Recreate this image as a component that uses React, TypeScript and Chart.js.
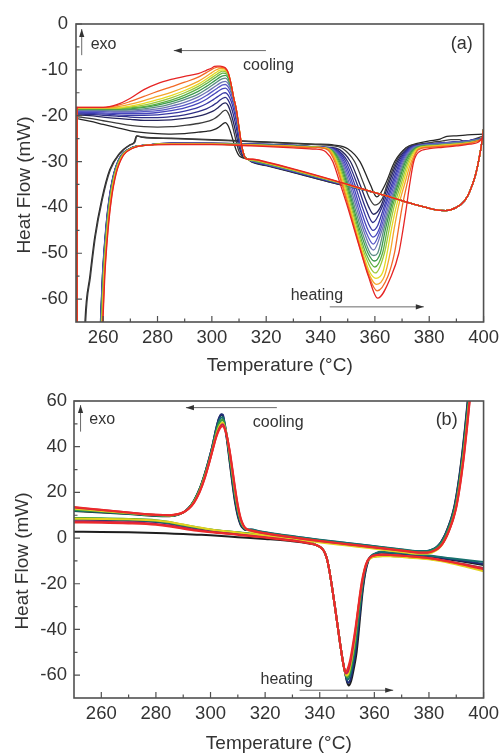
import React, { useEffect, useRef } from 'react';
import { Chart, registerables } from 'chart.js';

Chart.register(...registerables);

const FONT = '"Liberation Sans", Arial, Helvetica, sans-serif';
const TEXT_COLOR = '#333333';
const FRAME_COLOR = '#505050';

// ---------- shared x axis ----------
const xTicks = [260, 280, 300, 320, 340, 360, 380, 400];
const xMinorTicks = [270, 290, 310, 330, 350, 370, 390];

// ================= PANEL (a) =================
const aYTicks = [-60, -50, -40, -30, -20, -10, 0];
const aYMinorTicks = [-55, -45, -35, -25, -15, -5];
const aColors = ['#262626', '#3d3d3d', '#26265e', '#2e2e86', '#3838a6', '#4646bc', '#5858c6', '#6c74b4',
  '#5c8c84', '#3c9a4c', '#5cb043', '#9cc83a', '#e4da22', '#f4a62a', '#f26a26', '#e62424'];

// cooling: shared start transient + baseline (400 -> 360)
const aCoolBaseT = [400, 399, 398, 397, 395, 393, 390, 386, 382, 378, 372, 366, 360];
const aCoolBaseY = [-23, -27.2, -30.4, -33, -36.4, -38.6, -40, -40.7, -40.5, -39.9, -38.9, -37.8, -36.8];
// cooling baseline per curve (350 -> 315)
const aCoolMidT = [350, 345, 330, 320, 315];
const aCoolMid = [
  [-35.4, -34.7, -32.4, -30.9, -30.2],
  [-35.4, -34.7, -32.3, -30.8, -30.1],
  [-35.35, -34.6, -32.3, -30.8, -30.1],
  [-35.3, -34.6, -32.2, -30.7, -30.0],
  [-35.3, -34.5, -32.2, -30.7, -30.0],
  [-35.25, -34.5, -32.1, -30.6, -29.9],
  [-35.2, -34.4, -32.1, -30.6, -29.9],
  [-35.2, -34.4, -32.0, -30.5, -29.8],
  [-35.15, -34.35, -32.0, -30.5, -29.8],
  [-35.1, -34.3, -31.9, -30.4, -29.8],
  [-35.1, -34.3, -31.9, -30.4, -29.7],
  [-35.1, -34.25, -31.8, -30.3, -29.7],
  [-35.05, -34.2, -31.8, -30.3, -29.6],
  [-35.05, -34.2, -31.7, -30.2, -29.6],
  [-35.0, -34.15, -31.7, -30.2, -29.5],
  [-35.0, -34.1, -31.6, -30.1, -29.5],
];
// cooling exotherm (313 -> 250)
const aCoolPeakT = [313, 312, 311, 310, 309, 308, 307, 306, 305, 304, 303, 302, 301, 300, 298, 295, 290, 285, 280, 275, 270, 265, 260, 255, 250];
const aCoolPeak = [
  [-29.4, -29.3, -29.1, -28.7, -27.6, -25.8, -23.8, -22.2, -21.5, -21.8, -22.3, -22.7, -23, -23.2, -23.4, -23.6, -23.9, -24, -23.9, -23.7, -23.3, -22.6, -21.9, -21.2, -20.6],
  [-29.4, -29.2, -28.8, -27.8, -25.8, -23.2, -20.9, -19.4, -18.8, -19.1, -19.7, -20.2, -20.6, -20.9, -21.3, -21.7, -22.1, -22.4, -22.5, -22.4, -22.1, -21.6, -21.1, -20.6, -20.2],
  [-29.4, -29.1, -28.4, -26.8, -24.2, -21.6, -19.4, -17.8, -17.2, -17.4, -17.9, -18.4, -18.8, -19.1, -19.6, -20.1, -20.6, -20.9, -21, -21, -20.8, -20.6, -20.3, -20, -19.8],
  [-29.4, -29, -28, -25.8, -22.6, -20, -17.9, -16.6, -16, -16.2, -16.6, -17.1, -17.5, -17.9, -18.5, -19.1, -19.8, -20.2, -20.4, -20.4, -20.3, -20.1, -19.9, -19.7, -19.6],
  [-29.4, -28.9, -27.6, -24.8, -21.2, -18.6, -16.7, -15.5, -15, -15.1, -15.5, -15.9, -16.3, -16.7, -17.4, -18.2, -19, -19.5, -19.8, -19.9, -19.9, -19.8, -19.6, -19.5, -19.4],
  [-29.4, -28.8, -27.3, -24, -20.2, -17.6, -15.7, -14.5, -14, -14.1, -14.4, -14.8, -15.2, -15.6, -16.4, -17.3, -18.3, -18.9, -19.3, -19.5, -19.5, -19.5, -19.4, -19.3, -19.2],
  [-29.4, -28.8, -27.1, -23.5, -19.6, -16.9, -14.9, -13.7, -13.2, -13.3, -13.6, -14, -14.4, -14.8, -15.6, -16.6, -17.7, -18.4, -18.9, -19.1, -19.2, -19.2, -19.1, -19.1, -19],
  [-29.4, -28.8, -26.9, -23.2, -19.2, -16.4, -14.3, -13, -12.5, -12.6, -12.9, -13.3, -13.7, -14.1, -14.9, -15.9, -17.1, -17.9, -18.5, -18.8, -19, -19, -18.9, -18.9, -18.8],
  [-29.4, -28.8, -26.8, -23, -19, -16.2, -13.9, -12.4, -11.8, -11.9, -12.2, -12.6, -13, -13.4, -14.2, -15.3, -16.5, -17.4, -18.1, -18.5, -18.7, -18.8, -18.8, -18.7, -18.7],
  [-29.4, -28.8, -26.7, -22.9, -18.9, -16.1, -13.5, -11.8, -11.2, -11.3, -11.6, -12, -12.4, -12.8, -13.6, -14.7, -16, -17, -17.7, -18.2, -18.5, -18.6, -18.6, -18.6, -18.6],
  [-29.4, -28.8, -26.7, -22.8, -18.8, -16, -13.2, -11.3, -10.75, -10.7, -11, -11.4, -11.8, -12.2, -13, -14.1, -15.5, -16.6, -17.4, -18, -18.3, -18.5, -18.5, -18.5, -18.5],
  [-29.5, -28.9, -26.6, -22.7, -18.7, -16, -13, -11, -10.4, -10.3, -10.5, -10.9, -11.3, -11.7, -12.5, -13.6, -15, -16.1, -17, -17.7, -18.1, -18.4, -18.4, -18.4, -18.4],
  [-29.5, -28.9, -26.6, -22.7, -18.7, -16, -12.9, -10.8, -10.1, -10, -10.05, -10.4, -10.8, -11.2, -12, -13.1, -14.5, -15.6, -16.5, -17.3, -17.9, -18.3, -18.3, -18.3, -18.3],
  [-29.5, -28.9, -26.6, -22.6, -18.6, -16, -12.9, -10.7, -9.9, -9.7, -9.7, -9.9, -10.2, -10.6, -11.4, -12.5, -13.8, -14.9, -15.8, -16.7, -17.5, -18.1, -18.3, -18.3, -18.3],
  [-29.5, -28.9, -26.6, -22.6, -18.6, -16, -12.9, -10.6, -9.7, -9.5, -9.4, -9.4, -9.6, -9.9, -10.6, -11.6, -12.7, -13.7, -14.7, -15.8, -16.9, -17.8, -18.2, -18.2, -18.2],
  [-29.5, -28.9, -26.6, -22.6, -18.6, -16, -12.9, -10.6, -9.6, -9.3, -9.2, -9.2, -9.25, -9.6, -10.1, -10.8, -11.4, -12.1, -13, -14.3, -16.2, -17.6, -18.2, -18.2, -18.2],
];
// switch cooling -> heating at 250 (signal falls off the bottom)
const aDropT = [250.4, 250.4];
const aDropBottom = -90;
// heating: rise after the switch
const aBlackRiseT = [252.8, 253.3, 255.1, 256.9, 259.4, 262.4, 266.0, 269.7, 271.5, 272.2, 274.5];
const aBlackRiseY = [-75, -65, -55, -46.4, -38.4, -31.8, -28.2, -26.4, -25.7, -24.4, -24.7];
const aColorRiseT = [259.3, 259.9, 260.6, 261.8, 263.0, 264.8, 267.2, 270.9, 276.9];
const aColorRiseY = [-75, -65, -55, -45, -38.4, -32.6, -28.9, -27.1, -26.4];
const aRiseShift = [0, 0.25, -0.9, -0.85, -0.8, -0.75, -0.7, -0.65, -0.6, -0.55, -0.5, -0.4, -0.3, -0.2, -0.1, 0];
// heating plateau
const aPlateauT = [285, 300, 315, 330, 338];
const aPlateau = [
  [-24.9, -25.2, -25.6, -26.0, -26.2],
  [-25.0, -25.3, -25.7, -26.1, -26.3],
  [-26.0, -26.0, -26.2, -26.5, -26.8],
  [-26.0, -26.0, -26.2, -26.5, -26.8],
  [-26.0, -26.1, -26.2, -26.5, -26.8],
  [-26.1, -26.1, -26.3, -26.6, -26.8],
  [-26.1, -26.1, -26.3, -26.6, -26.8],
  [-26.1, -26.1, -26.3, -26.6, -26.8],
  [-26.1, -26.1, -26.3, -26.6, -26.8],
  [-26.1, -26.1, -26.3, -26.6, -26.8],
  [-26.1, -26.2, -26.4, -26.7, -26.9],
  [-26.1, -26.2, -26.4, -26.7, -26.9],
  [-26.2, -26.2, -26.4, -26.7, -26.9],
  [-26.2, -26.2, -26.4, -26.7, -26.9],
  [-26.2, -26.2, -26.5, -26.8, -27.0],
  [-26.3, -26.3, -26.6, -27.0, -27.3],
];
// heating endotherm + tail to 400
const aHeatPeak = [
  [[345, -26.4], [350, -27.2], [354.5, -30], [358.3, -35], [360.7, -37.7], [363.8, -35], [367.3, -30], [371.5, -27], [376, -26], [380, -25.5], [384, -25.1], [386.5, -24.5], [390, -24.4], [394, -24.2], [400, -24]],
  [[344, -26.5], [348, -27.1], [352.5, -30], [356, -35], [358, -38], [360, -39.5], [362.8, -38], [364.5, -35], [367.8, -30], [371.5, -27], [376, -26.2], [381, -25.8], [385, -25.5], [388, -25.2], [391, -25.2], [393.5, -25.8], [396, -25.2], [400, -24.4]],
  [[343, -26.9], [347, -27.4], [351, -30], [354.5, -35], [357.8, -40], [359.5, -41.5], [362, -40], [365, -35], [368.3, -30], [371.8, -27.2], [376, -26.4], [382, -26.1], [388, -25.8], [394, -25.5], [400, -24.9]],
  [[342, -26.9], [346, -27.4], [350, -30], [353.5, -35], [356.5, -40], [359.3, -43.3], [362.6, -40], [365.6, -35], [368.8, -30], [372.3, -27.2], [376.5, -26.4], [382, -26.1], [388, -25.8], [394, -25.5], [400, -24.9]],
  [[341.5, -26.9], [345.5, -27.4], [349.3, -30], [352.6, -35], [355.4, -40], [358, -44], [359.3, -45], [361, -44], [363.3, -40], [366.2, -35], [369.3, -30], [372.6, -27.2], [376.5, -26.4], [382, -26.1], [388, -25.8], [394, -25.5], [400, -24.9]],
  [[341, -26.9], [345, -27.4], [348.7, -30], [351.9, -35], [354.5, -40], [357.5, -45], [359.3, -46.5], [361.4, -45], [363.8, -40], [366.7, -35], [369.7, -30], [373, -27.2], [377, -26.4], [382, -26.1], [388, -25.8], [394, -25.5], [400, -24.9]],
  [[340.7, -26.9], [344.7, -27.4], [348.2, -30], [351.3, -35], [353.8, -40], [356.5, -45], [359.4, -48], [362, -45], [364.4, -40], [367.2, -35], [370.1, -30], [373.4, -27.2], [377, -26.4], [382, -26.2], [388, -25.9], [394, -25.6], [400, -25]],
  [[340.4, -26.9], [344.4, -27.4], [347.8, -30], [350.7, -35], [353.2, -40], [355.8, -45], [359.5, -49.3], [362.6, -45], [364.9, -40], [367.7, -35], [370.5, -30], [373.8, -27.2], [377.5, -26.4], [383, -26.2], [389, -25.9], [394, -25.6], [400, -25]],
  [[340, -26.9], [344, -27.4], [347.4, -30], [350.2, -35], [352.6, -40], [355.1, -45], [358.3, -50], [359.6, -50.5], [361, -50], [363.2, -45], [365.4, -40], [368.1, -35], [370.9, -30], [374.2, -27.2], [378, -26.5], [383, -26.3], [389, -26], [394, -25.7], [400, -25]],
  [[339.8, -26.9], [343.8, -27.4], [347, -30], [349.8, -35], [352.1, -40], [354.5, -45], [357.5, -50], [359.8, -51.7], [362, -50], [363.8, -45], [365.9, -40], [368.5, -35], [371.3, -30], [374.6, -27.2], [378, -26.6], [384, -26.5], [390, -26.2], [395, -25.9], [400, -25.2]],
  [[339.6, -26.9], [343.6, -27.4], [346.6, -30], [349.4, -35], [351.7, -40], [354, -45], [356.7, -50], [360, -53], [362.8, -50], [364.5, -45], [366.4, -40], [369, -35], [371.8, -30], [375, -27.2], [378.5, -26.6], [384, -26.5], [390, -26.2], [395, -25.9], [400, -25.2]],
  [[339.4, -26.9], [343.4, -27.4], [346.2, -30], [349, -35], [351.3, -40], [353.6, -45], [356.1, -50], [360.2, -54.3], [363.5, -50], [365.2, -45], [367, -40], [369.6, -35], [372.3, -30], [375.3, -27.2], [379, -26.7], [384, -26.5], [390, -26.2], [395, -25.9], [400, -25.2]],
  [[339.2, -26.9], [343.2, -27.4], [345.9, -30], [348.6, -35], [350.9, -40], [353.2, -45], [355.6, -50], [358, -54], [360.4, -55.5], [363, -54], [364.5, -50], [366, -45], [367.8, -40], [370.2, -35], [372.8, -30], [375.6, -27.2], [379, -26.7], [384, -26.5], [390, -26.2], [395, -25.9], [400, -25.2]],
  [[339, -26.9], [343, -27.4], [345.6, -30], [348.2, -35], [350.6, -40], [352.9, -45], [355.3, -50], [358.2, -55], [360.6, -56.8], [363.5, -55], [365.6, -50], [367, -45], [368.6, -40], [370.9, -35], [373.4, -30], [375.9, -27.3], [379.5, -26.8], [384, -26.6], [390, -26.3], [395, -26], [400, -25.2]],
  [[338.8, -26.9], [342.7, -27.5], [345.2, -30], [347.9, -35], [350.3, -40], [352.7, -45], [355.1, -50], [357.8, -55], [360.8, -58.2], [364.8, -55], [367.2, -50], [368.6, -45], [370, -40], [371.8, -35], [373.9, -30], [376, -27.4], [380, -26.9], [385, -26.7], [390, -26.4], [395, -26], [400, -25]],
  [[338.5, -27.3], [342, -27.9], [344.5, -30], [347.3, -35], [350, -40], [352.5, -45], [355, -50], [357.6, -55], [361, -59.8], [366, -55], [368.8, -50], [370.3, -45], [371.6, -40], [372.8, -35], [374.3, -30], [376, -28], [380, -27.2], [385, -26.9], [390, -26.6], [395, -26.2], [398, -25.8], [400, -24.5]],
];

// ================= PANEL (b) =================
const bYTicks = [-60, -40, -20, 0, 20, 40, 60];
const bYMinorTicks = [-50, -30, -10, 10, 30, 50];
const bColors = ['#1e1e1e', '#1f2d78', '#17706e', '#3a9e3a', '#e4d21e', '#c8204e', '#ec2a2a'];

// cooling: start transient + baseline (400 -> 315)
const bCoolBaseT = [400, 397.5, 395.5, 394.5, 393.5, 392.5, 391.5, 390.5, 389.5, 388.5, 387.5, 386.5, 385.5, 384.5, 383, 381, 379, 376, 372, 365, 358, 350, 340, 333, 325, 318, 315];
const bCoolBaseY = [140, 100, 72, 60, 48, 37, 27.5, 19.5, 13, 8.5, 5, 2, -0.5, -2.5, -4.4, -5.7, -6.3, -6.3, -5.8, -4.8, -3.8, -2.7, -1.3, -0.2, 1.1, 2.4, 3.2];
const bCoolShiftT = [-0.3, -0.2, 0, 0.1, 0.2, 0.35, 0.45];
const bCoolOffsetY = [0.3, 0.5, 0.6, 0.1, -0.6, -0.1, 0];
// cooling exotherm (313 -> 250)
const bCoolPeakT = [313, 312, 311, 310, 309, 308, 307, 306, 305, 304.5, 304, 303, 302, 301, 300, 298, 296, 294, 292, 290, 288, 285, 280, 270, 260, 250];
const bCoolPeak = [
  [3.5, 4.2, 5.8, 9.5, 15.5, 24, 33.5, 43, 50.5, 53.6, 54, 52, 47.5, 42, 37, 28.5, 21.5, 16.5, 13.2, 11.2, 10.2, 9.6, 9.7, 10.5, 11.2, 11.8],
  [3.6, 4.4, 6.2, 10.2, 16.5, 25, 34.5, 44, 51.5, 54, 54.2, 52.2, 47.6, 42, 37, 28.5, 21.5, 16.5, 13.2, 11.2, 10.2, 9.7, 9.9, 10.8, 11.6, 12.2],
  [3.8, 4.8, 7, 11.5, 18, 26.5, 35.5, 44.5, 51, 52.9, 52.8, 51, 46.8, 41.5, 36.5, 28.2, 21.3, 16.4, 13.1, 11.2, 10.2, 9.7, 9.8, 10.7, 11.4, 12],
  [4, 5, 7.6, 12.3, 19, 27.5, 36.3, 44.5, 50.2, 51.8, 51.6, 49.8, 45.8, 40.8, 36, 28, 21.2, 16.3, 13.1, 11.2, 10.3, 9.8, 10, 10.9, 11.7, 12.4],
  [4, 5.3, 8.2, 13.3, 20.5, 29, 37.5, 44.8, 49.5, 50.6, 50.3, 48.4, 44.7, 40, 35.3, 27.3, 20.6, 15.9, 12.9, 11.2, 10.4, 9.9, 10.1, 11, 11.9, 12.8],
  [4.1, 5.6, 8.6, 14, 21.3, 29.8, 38, 44.7, 48.9, 49.8, 49.5, 47.6, 44.2, 39.7, 35.1, 26.9, 20.3, 15.7, 12.8, 11.2, 10.4, 10, 10.2, 11.2, 12.3, 13.4],
  [4.2, 5.8, 9, 14.5, 22, 30.5, 38.5, 44.5, 48.2, 49, 48.8, 47, 43.8, 39.5, 35, 26.5, 20, 15.5, 12.8, 11.3, 10.5, 10, 10.2, 11.2, 12.4, 13.6],
];
// heating: 250 -> 336
const bHeatPreT = [250, 260, 270, 280, 285, 290, 295, 300, 310, 320, 330, 336];
const bHeatPre = [
  [2.8, 2.7, 2.5, 2.2, 2, 1.8, 1.5, 1.2, 0.4, -0.4, -1.4, -2.4],
  [8.0, 7.9, 7.6, 7.0, 6.3, 5.2, 4.2, 3.4, 2.2, 1.0, -0.5, -1.8],
  [8.3, 8.2, 7.9, 7.3, 6.5, 5.4, 4.4, 3.6, 2.4, 1.1, -0.4, -1.7],
  [8.8, 8.7, 8.4, 7.8, 7.0, 5.8, 4.7, 3.8, 2.5, 1.2, -0.3, -1.6],
  [8.5, 8.4, 8.2, 7.7, 7.0, 5.9, 4.8, 3.8, 2.4, 1.0, -0.6, -1.9],
  [7.3, 7.2, 6.9, 6.2, 5.5, 4.5, 3.5, 2.8, 1.6, 0.4, -1.0, -2.2],
  [6.8, 6.7, 6.4, 5.8, 5.1, 4.1, 3.2, 2.5, 1.4, 0.2, -1.2, -2.3],
];
// endotherm left flank (shared)
const bHeatLeftT = [339, 340.5, 341.5, 342.5, 343.5, 344.5, 345.5, 346.5, 347.5, 348.5];
const bHeatLeftY = [-3.2, -4.2, -5.6, -8.5, -14, -21.5, -29.5, -38, -46.5, -54.2];
// endotherm minimum, right flank and tail
const bHeatRight = [
  [[349.3, -59], [350, -63], [350.6, -64.5], [351.5, -62.5], [352.5, -57], [353.5, -50], [354.2, -42], [354.7, -35.5], [355.3, -28], [355.9, -21.5], [356.8, -14.5], [357.8, -10], [359, -7.8], [360.5, -6.8], [362.5, -6.3], [366, -6.6], [372, -7.1], [380, -8], [388, -9.5], [395, -10.8], [400, -11.8]],
  [[349.3, -59], [350, -62.5], [350.4, -63.3], [351.2, -62], [352.2, -56.5], [353.2, -49], [354, -40.5], [354.6, -34], [355.2, -27], [355.8, -21], [356.7, -14.3], [357.7, -10], [359, -7.8], [360.5, -6.8], [362.5, -6.2], [366, -6.5], [372, -7], [380, -7.8], [388, -9.2], [395, -10.4], [400, -11.3]],
  [[349.3, -59], [350.2, -62], [351, -60.5], [352, -55], [353, -47.5], [353.8, -39.5], [354.5, -32.5], [355.1, -26], [355.7, -20.5], [356.6, -14], [357.6, -9.8], [359, -7.6], [360.5, -6.6], [362.5, -6], [366, -6.3], [372, -6.8], [380, -7.6], [388, -8.8], [395, -9.8], [400, -10.5]],
  [[349.3, -58.8], [350, -61], [350.8, -59.5], [351.8, -54], [352.8, -46.5], [353.6, -38.5], [354.3, -31.5], [355, -25], [355.6, -19.8], [356.5, -13.8], [357.6, -10], [359, -8.4], [361, -8], [363, -7.8], [366, -7.9], [372, -8.3], [380, -9], [388, -10.5], [395, -12], [400, -13.2]],
  [[349.2, -58.5], [349.8, -60.2], [350.6, -59], [351.6, -53.5], [352.6, -46], [353.4, -38], [354.1, -31], [354.8, -24.8], [355.5, -19.5], [356.4, -13.7], [357.5, -10.2], [359, -8.6], [361, -8.1], [363, -7.9], [366, -8], [372, -8.5], [380, -9.3], [388, -11], [395, -13], [400, -14.5]],
  [[349.5, -59.3], [350.3, -58.5], [351.3, -54], [352.3, -47], [353.2, -39.5], [354, -32], [354.8, -25], [355.6, -19], [356.6, -13.3], [357.7, -9.6], [359.5, -7.7], [362, -7.3], [366, -7.4], [372, -7.9], [380, -8.7], [388, -10.3], [395, -12], [400, -13.2]],
  [[349.3, -58.5], [350, -57.8], [351, -54], [352, -47.5], [353, -40], [353.8, -33], [354.6, -25.5], [355.4, -19], [356.4, -13.5], [357.5, -9.8], [359, -8], [361, -7.4], [363, -7.2], [366, -7.4], [372, -7.9], [380, -8.8], [388, -10.5], [395, -12.3], [400, -13.7]],
];

// ---------- annotations (data coordinates) ----------
const aNotes = [
  { kind: 'arrow', x0: 252.1, y0: -6.8, x1: 252.1, y1: -1.1 },
  { kind: 'text', x: 255.4, y: -4.4, text: 'exo', align: 'left', size: 16 },
  { kind: 'arrow', x0: 319.9, y0: -5.8, x1: 286, y1: -5.8 },
  { kind: 'text', x: 311.5, y: -9.1, text: 'cooling', align: 'left', size: 16 },
  { kind: 'text', x: 396, y: -4.4, text: '(a)', align: 'right', size: 18 },
  { kind: 'text', x: 329, y: -59.3, text: 'heating', align: 'left', size: 16 },
  { kind: 'arrow', x0: 343.4, y0: -61.7, x1: 378, y1: -61.7 },
];
const bNotes = [
  { kind: 'arrow', x0: 252.4, y0: 46.6, x1: 252.4, y1: 58.2 },
  { kind: 'text', x: 255.6, y: 51.7, text: 'exo', align: 'left', size: 16 },
  { kind: 'arrow', x0: 324.3, y0: 57.1, x1: 291, y1: 57.1 },
  { kind: 'text', x: 315.5, y: 50.7, text: 'cooling', align: 'left', size: 16 },
  { kind: 'text', x: 390.5, y: 51.7, text: '(b)', align: 'right', size: 18 },
  { kind: 'text', x: 318.3, y: -61.8, text: 'heating', align: 'left', size: 16 },
  { kind: 'arrow', x0: 332.6, y0: -66.6, x1: 366.9, y1: -66.6 },
];

// ---------- helpers ----------
const pts = (T: number[], Y: number[], dx = 0, dy = 0) => T.map((t, k) => ({ x: t + dx, y: Y[k] + dy }));
const pairs = (P: number[][]) => P.map(([x, y]) => ({ x, y }));

const lineDs = (data: any[], color: string, width: number, smooth = true) => ({
  data,
  borderColor: color,
  backgroundColor: color,
  borderWidth: width,
  pointRadius: 0,
  pointHoverRadius: 0,
  fill: false,
  tension: 0,
  cubicInterpolationMode: smooth ? 'monotone' : 'default',
  borderJoinStyle: 'round',
  borderCapStyle: 'round',
});

// Chart.js paints dataset 0 last (on top); the red curves must end up on top,
// so the lists are built red-first.
function datasetsA() {
  const ds: any[] = [];
  aColors.forEach((c, i) => {
    const cool = [...pts(aCoolBaseT, aCoolBaseY), ...pts(aCoolMidT, aCoolMid[i]), ...pts(aCoolPeakT, aCoolPeak[i])];
    const rise = i < 2 ? pts(aBlackRiseT, aBlackRiseY, aRiseShift[i]) : pts(aColorRiseT, aColorRiseY, aRiseShift[i]);
    const heat = [...rise, ...pts(aPlateauT, aPlateau[i]), ...pairs(aHeatPeak[i])];
    const endY = aCoolPeak[i][aCoolPeak[i].length - 1];
    const drop = pts(aDropT, [endY, aDropBottom]);
    ds.push(lineDs(cool, c, 1.3), lineDs(heat, c, 1.3), lineDs(drop, c, 1.3, false));
  });
  return ds.reverse();
}

function datasetsB() {
  const ds: any[] = [];
  bColors.forEach((c, i) => {
    const cool = [...pts(bCoolBaseT, bCoolBaseY, bCoolShiftT[i], bCoolOffsetY[i]), ...pts(bCoolPeakT, bCoolPeak[i])];
    const heat = [...pts(bHeatPreT, bHeatPre[i]), ...pts(bHeatLeftT, bHeatLeftY), ...pairs(bHeatRight[i])];
    ds.push(lineDs(cool, c, 2), lineDs(heat, c, 2));
  });
  return ds.reverse();
}

const decoPlugin = {
  id: 'deco',
  afterDraw(chart: any, _args: any, o: any) {
    const { ctx, chartArea: ca } = chart;
    const xs = chart.scales.x;
    const ys = chart.scales.y;
    const X = (v: number) => xs.getPixelForValue(v);
    const Y = (v: number) => ys.getPixelForValue(v);
    ctx.save();
    // frame
    ctx.strokeStyle = FRAME_COLOR;
    ctx.lineWidth = 1.6;
    ctx.strokeRect(ca.left, ca.top, ca.right - ca.left, ca.bottom - ca.top);
    // inward ticks
    ctx.lineWidth = 1.2;
    ctx.beginPath();
    o.xMajor.forEach((v: number) => { const p = X(v); ctx.moveTo(p, ca.bottom); ctx.lineTo(p, ca.bottom - 6); });
    o.xMinor.forEach((v: number) => { const p = X(v); ctx.moveTo(p, ca.bottom); ctx.lineTo(p, ca.bottom - 3.5); });
    o.yMajor.forEach((v: number) => { const p = Y(v); ctx.moveTo(ca.left, p); ctx.lineTo(ca.left + 6, p); });
    o.yMinor.forEach((v: number) => { const p = Y(v); ctx.moveTo(ca.left, p); ctx.lineTo(ca.left + 3.5, p); });
    ctx.stroke();
    // annotations
    o.notes.forEach((n: any) => {
      if (n.kind === 'arrow') {
        const x0 = X(n.x0), y0 = Y(n.y0), x1 = X(n.x1), y1 = Y(n.y1);
        ctx.strokeStyle = '#6a6a6a';
        ctx.lineWidth = 1;
        ctx.beginPath();
        ctx.moveTo(x0, y0);
        ctx.lineTo(x1, y1);
        ctx.stroke();
        const a = Math.atan2(y1 - y0, x1 - x0);
        const L = 8, W = 2.6;
        const cs = Math.cos(a), sn = Math.sin(a);
        ctx.fillStyle = '#333';
        ctx.beginPath();
        ctx.moveTo(x1, y1);
        ctx.lineTo(x1 - L * cs + W * sn, y1 - L * sn - W * cs);
        ctx.lineTo(x1 - L * cs - W * sn, y1 - L * sn + W * cs);
        ctx.closePath();
        ctx.fill();
      } else {
        ctx.fillStyle = TEXT_COLOR;
        ctx.font = `${n.size}px ${FONT}`;
        ctx.textAlign = n.align;
        ctx.textBaseline = 'middle';
        ctx.fillText(n.text, X(n.x), Y(n.y));
      }
    });
    // axis titles
    ctx.fillStyle = TEXT_COLOR;
    ctx.font = `19px ${FONT}`;
    ctx.textAlign = 'center';
    ctx.textBaseline = 'middle';
    ctx.fillText('Temperature (°C)', (ca.left + ca.right) / 2, o.xTitleY);
    ctx.save();
    ctx.translate(o.yTitleX, o.yTitleY);
    ctx.rotate(-Math.PI / 2);
    ctx.fillText('Heat Flow (mW)', 0, 0);
    ctx.restore();
    ctx.restore();
  },
};

function makeConfig(p: any) {
  const tickFont = { family: FONT, size: 18.5 };
  return {
    type: 'line',
    data: { datasets: p.datasets },
    plugins: [decoPlugin],
    options: {
      responsive: false,
      animation: false,
      events: [],
      layout: { padding: { top: p.padTop, right: p.padRight, left: 0, bottom: 0 } },
      elements: { line: { capBezierPoints: false } },
      plugins: {
        legend: { display: false },
        tooltip: { enabled: false },
        deco: {
          xMajor: xTicks, xMinor: xMinorTicks, yMajor: p.yTicks, yMinor: p.yMinor,
          notes: p.notes, xTitleY: p.xTitleY, yTitleX: p.yTitleX, yTitleY: p.yTitleY,
        },
      },
      scales: {
        x: {
          type: 'linear', min: 250, max: 400,
          grid: { display: false, drawTicks: false }, border: { display: false },
          ticks: { font: tickFont, color: TEXT_COLOR, padding: 5, autoSkip: false, maxRotation: 0, callback: (v: any) => String(v) },
          afterBuildTicks: (s: any) => { s.ticks = xTicks.map((v) => ({ value: v })); },
          afterFit: (s: any) => { s.height = p.xHeight; },
        },
        y: {
          type: 'linear', min: p.yMin, max: p.yMax,
          grid: { display: false, drawTicks: false }, border: { display: false },
          ticks: { font: tickFont, color: TEXT_COLOR, padding: p.yPad, autoSkip: false, callback: (v: any) => String(v) },
          afterBuildTicks: (s: any) => { s.ticks = p.yTicks.map((v: number) => ({ value: v })); },
          afterFit: (s: any) => { s.width = p.yWidth; },
        },
      },
    },
  };
}

function Panel({ height, build }: { height: number; build: () => any }) {
  const ref = useRef<HTMLCanvasElement>(null);
  useEffect(() => {
    const chart = new Chart(ref.current as HTMLCanvasElement, build());
    return () => chart.destroy();
  }, []);
  return <canvas ref={ref} width={504} height={height} style={{ display: 'block', width: 504, height }} />;
}

const buildA = () => makeConfig({
  datasets: datasetsA(), yMin: -65, yMax: 0, yTicks: aYTicks, yMinor: aYMinorTicks, notes: aNotes,
  padTop: 24, padRight: 16, yWidth: 76, xHeight: 53, yPad: 8,
  xTitleY: 366, yTitleX: 25, yTitleY: 185,
});
const buildB = () => makeConfig({
  datasets: datasetsB(), yMin: -70, yMax: 60, yTicks: bYTicks, yMinor: bYMinorTicks, notes: bNotes,
  padTop: 26, padRight: 18, yWidth: 74, xHeight: 55, yPad: 7,
  xTitleY: 369, yTitleX: 23, yTitleY: 186,
});

export default function App() {
  return (
    <div style={{ position: 'absolute', left: 0, top: 0, width: 504, height: 753, background: '#ffffff' }}>
      <Panel height={375} build={buildA} />
      <Panel height={378} build={buildB} />
    </div>
  );
}
